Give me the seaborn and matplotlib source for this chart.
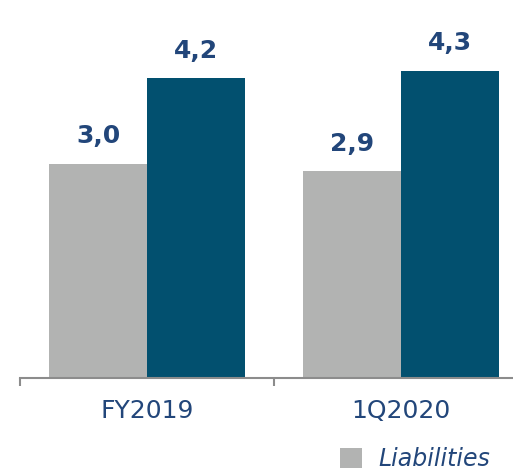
import matplotlib
matplotlib.use("Agg")
import matplotlib.pyplot as plt
import seaborn as sns
import pandas as pd
from matplotlib.patches import Patch

# Data
categories = ["FY2019", "1Q2020"]
liabilities = [3.0, 2.9]
other = [4.2, 4.3]
series_names = ["Liabilities", "Equity"]

df = pd.DataFrame({
    "category": categories * 2,
    "series": [series_names[0]] * 2 + [series_names[1]] * 2,
    "value": liabilities + other,
})

GRAY = "#B2B3B2"
TEAL = "#02506F"
TXT = "#22467A"
AX = "#8C8C8C"

sns.set_theme(style="white")
plt.rcParams["font.family"] = ["DejaVu Sans"]

W, H = 513, 472
fig = plt.figure(figsize=(W / 100, H / 100), dpi=100)
ax = fig.add_axes([20 / W, 94 / H, (W - 20) / W, 378 / H])

sns.barplot(data=df, x="category", y="value", hue="series",
            palette=[GRAY, TEAL], width=0.77, gap=0, saturation=1,
            edgecolor="none", linewidth=0, ax=ax, legend=False)

for c in ax.containers:
    labels = [f"{v:.1f}".replace(".", ",") for v in c.datavalues]
    ax.bar_label(c, labels=labels, padding=11, fontsize=18,
                 fontweight="bold", color=TXT)

for s in ["top", "right", "left"]:
    ax.spines[s].set_visible(False)
ax.spines["bottom"].set_color(AX)
ax.spines["bottom"].set_linewidth(1.5)

ax.set_yticks([])
ax.set_xticks([0, 1])
ax.set_xticklabels(categories)
ax.set_xticks([-0.5, 0.5, 1.5], minor=True)
ax.tick_params(axis="x", which="major", length=0, pad=15,
               labelsize=18, labelcolor=TXT)
ax.tick_params(axis="x", which="minor", length=6, width=1.5,
               color=AX, direction="out", bottom=True)
ax.set_xlabel("")
ax.set_ylabel("")

ax.set_xlim(-0.5, 1.44)
ax.set_ylim(0, 5.29)

handles = [Patch(facecolor=GRAY, edgecolor="none")]
fig.legend(handles, [series_names[0]], loc="center left",
           bbox_to_anchor=(340 / W, 13 / H), frameon=False,
           borderpad=0, borderaxespad=0, handlelength=0.93,
           handleheight=0.93, handletextpad=0.68,
           prop={"size": 17, "style": "italic"}, labelcolor=TXT)

fig.savefig("out.png", dpi=100)
